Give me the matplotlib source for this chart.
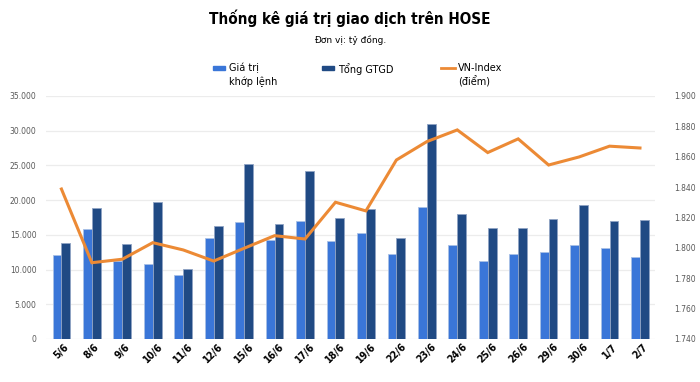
import matplotlib
matplotlib.use('Agg')
import matplotlib.pyplot as plt
from matplotlib.patches import Rectangle
from matplotlib.lines import Line2D
from matplotlib.ticker import FuncFormatter
import numpy as np

# du lieu doc tu hinh
dates = ['5/6', '8/6', '9/6', '10/6', '11/6', '12/6', '15/6', '16/6', '17/6', '18/6',
         '19/6', '22/6', '23/6', '24/6', '25/6', '26/6', '29/6', '30/6', '1/7', '2/7']
khop_lenh = [12100, 15800, 11200, 10750, 9200, 14500, 16800, 14300, 17000, 14100,
             15200, 12200, 18950, 13500, 11200, 12200, 12500, 13500, 13150, 11800]
tong_gtgd = [13800, 18900, 13650, 19700, 10100, 16300, 25250, 16550, 24150, 17400,
             18700, 14500, 30900, 18050, 16000, 16000, 17300, 19250, 17050, 17100]
vn_index = [1838.7, 1790.2, 1792.5, 1803.4, 1798.6, 1791.3, 1799.7, 1808.0, 1805.8, 1830.0,
            1824.3, 1857.8, 1869.9, 1877.6, 1862.7, 1871.7, 1854.5, 1859.8, 1866.9, 1865.7]
legend_labels = ['Giá trị\nkhớp lệnh', 'Tổng GTGD', 'VN-Index\n(điểm)']

c_light = '#3a76d8'
c_dark = '#204a84'
c_line = '#ec8a35'

plt.rcParams['font.family'] = ['DejaVu Sans']

def vn_fmt(v, pos):
    return f'{v:,.0f}'.replace(',', '.')

W, H = 700, 382
fig = plt.figure(figsize=(7, 3.82), dpi=100)
ax = fig.add_axes([0.066, 0.1126, 0.87, 0.6364])
ax2 = ax.twinx()

x = np.arange(len(dates))
w = 0.29
ax.bar(x - w / 2, khop_lenh, w, color=c_light, edgecolor='#a9c0e6', linewidth=0.6, zorder=2)
ax.bar(x + w / 2, tong_gtgd, w, color=c_dark, edgecolor='#8fa3c4', linewidth=0.6, zorder=2)
ax2.plot(x, vn_index, color=c_line, linewidth=2.2, solid_joinstyle='miter')

ax.set_xlim(-0.5, len(dates) - 0.5)
ax.set_ylim(0, 35000)
ax.set_yticks(np.arange(0, 35001, 5000))
ax2.set_ylim(1740, 1900)
ax2.set_yticks(np.arange(1740, 1901, 20))
ax.yaxis.set_major_formatter(FuncFormatter(vn_fmt))
ax2.yaxis.set_major_formatter(FuncFormatter(vn_fmt))

ax.grid(axis='y', color='#ececec', linewidth=0.9, zorder=0)
ax.set_axisbelow(True)
for a in (ax, ax2):
    for s in a.spines.values():
        s.set_visible(False)
    a.tick_params(axis='y', length=0, labelsize=5.5, labelcolor='#595959')
ax.tick_params(axis='y', pad=7)
ax2.tick_params(axis='y', pad=14)

ax.set_xticks(x)
ax.set_xticklabels(dates, rotation=45, fontsize=7.5, fontweight='bold', fontstretch='condensed')
ax.tick_params(axis='x', length=0, pad=2)

fig.text(0.5, 1 - 18 / H, 'Thống kê giá trị giao dịch trên HOSE', ha='center', va='center',
         fontsize=11, fontweight='bold', fontstretch='condensed')
fig.text(0.5, 1 - 40 / H, 'Đơn vị: tỷ đồng.', ha='center', va='center', fontsize=6.5)

# chu giai ve tay de marker thang hang voi dong dau
fs = 7
fig.add_artist(Rectangle((213 / W, 1 - 70 / H), 12 / W, 4 / H, color=c_light,
                         transform=fig.transFigure))
fig.text(229 / W, 1 - 63 / H, legend_labels[0], ha='left', va='top', fontsize=fs,
         linespacing=1.35)
fig.add_artist(Rectangle((322 / W, 1 - 70 / H), 12 / W, 4 / H, color=c_dark,
                         transform=fig.transFigure))
fig.text(338 / W, 1 - 63 / H, legend_labels[1], ha='left', va='top', fontsize=fs)
fig.add_artist(Line2D([441 / W, 455 / W], [1 - 68 / H, 1 - 68 / H], color=c_line, lw=2,
                      transform=fig.transFigure))
fig.text(458 / W, 1 - 63 / H, legend_labels[2], ha='left', va='top', fontsize=fs,
         linespacing=1.35)

plt.savefig('out.png', dpi=100, facecolor='white')
plt.close()
